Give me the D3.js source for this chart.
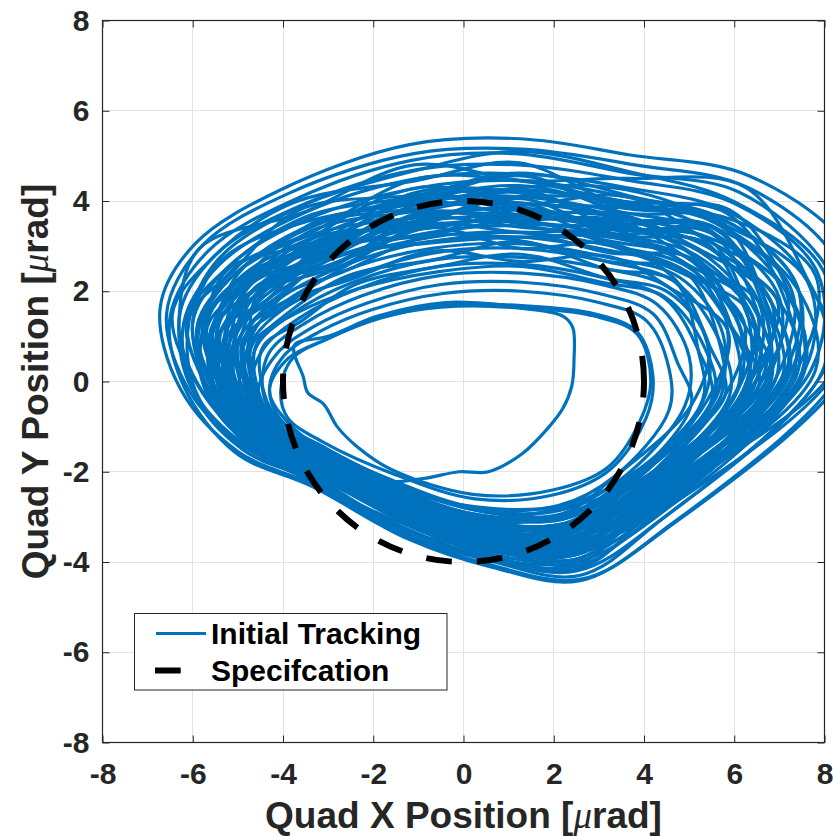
<!DOCTYPE html>
<html>
<head>
<meta charset="utf-8">
<script src="https://cdn.jsdelivr.net/npm/d3@7"></script>
<style>
  body { margin: 0; background: #fff; }
  svg { display: block; font-family: "Liberation Sans", Arial, Helvetica, sans-serif; }
</style>
</head>
<body>
<svg width="833" height="836"></svg>
<script>
const xTicks = [-8, -6, -4, -2, 0, 2, 4, 6, 8]
const yTicks = [-8, -6, -4, -2, 0, 2, 4, 6, 8]
const specRadius = 4
const seriesNames = ['Initial Tracking', 'Specifcation']

// tracking loops, [x, y] in urad
const loopA = [[-6.28,-0.15],[-6.72,1.65],[-5.95,3.05],[-4.05,4.25],[-1.2,5.25],[1.25,5.38],[3.7,5.02],[6.35,4.55],[8.6,2.8],[8.7,0.55],[4.45,-3.3],[2.6,-4.38],[0.55,-4.05],[-1.3,-3.4],[-3.3,-2.3],[-5.0,-1.55]]
const loopB = [[-6.05,-0.25],[-6.58,1.5],[-5.8,3.0],[-3.85,4.18],[-1.1,5.05],[1.3,5.15],[3.8,4.8],[6.3,4.3],[8.3,2.6],[8.35,0.4],[4.15,-3.05],[2.5,-4.1],[0.5,-3.88],[-1.4,-3.2],[-3.25,-2.2],[-4.85,-1.45]]
const loopC = [[-6.2,-0.1],[-6.5,1.45],[-5.65,2.9],[-3.7,4.05],[-1.15,4.9],[1.15,5.05],[3.75,4.6],[6.1,4.2],[8.1,2.45],[8.5,0.5],[4.35,-3.35],[2.55,-4.42],[0.65,-4.12],[-1.25,-3.48],[-3.35,-2.33],[-5.05,-1.58]]
const loopD = [[-5.8,-0.2],[-6.3,1.4],[-5.5,2.8],[-3.6,3.9],[-1.0,4.7],[1.2,4.8],[3.7,4.45],[6.0,3.95],[7.85,2.4],[7.7,0.25],[4.0,-2.9],[2.4,-3.8],[0.45,-3.65],[-1.4,-3.0],[-3.2,-2.05],[-4.6,-1.3]]
const loopE = [[-5.95,-0.3],[-6.2,1.3],[-5.4,2.6],[-3.5,3.75],[-1.0,4.5],[1.3,4.6],[3.6,4.3],[5.9,3.75],[7.6,2.3],[8.0,0.35],[4.3,-3.12],[2.5,-4.2],[0.6,-3.95],[-1.3,-3.3],[-3.3,-2.2],[-4.9,-1.5]]
const loopF = [[-5.55,-0.15],[-6.0,1.3],[-5.2,2.55],[-3.45,3.6],[-0.95,4.3],[1.2,4.45],[3.55,4.1],[5.75,3.6],[7.4,2.1],[7.2,0.1],[3.9,-2.72],[2.35,-3.55],[0.4,-3.45],[-1.45,-2.85],[-3.2,-1.9],[-4.5,-1.25]]
const loopG = [[-5.7,-0.25],[-5.85,1.2],[-5.05,2.4],[-3.3,3.45],[-0.9,4.1],[1.25,4.25],[3.5,3.95],[5.6,3.5],[7.2,1.9],[7.5,0.2],[4.1,-3.0],[2.45,-3.95],[0.5,-3.8],[-1.35,-3.1],[-3.25,-2.1],[-4.75,-1.4]]
const loopH = [[-5.3,-0.2],[-5.7,1.25],[-4.9,2.35],[-3.2,3.25],[-0.9,4.0],[1.2,4.1],[3.5,3.75],[5.5,3.3],[7.0,1.85],[6.7,0.0],[3.75,-2.55],[2.3,-3.35],[0.4,-3.25],[-1.45,-2.7],[-3.2,-1.8],[-4.4,-1.15]]
const loopI = [[-5.5,-0.3],[-5.6,1.1],[-4.8,2.2],[-3.1,3.15],[-0.85,3.85],[1.3,3.95],[3.45,3.65],[5.4,3.15],[6.85,1.7],[7.15,0.15],[4.05,-2.92],[2.45,-3.85],[0.5,-3.7],[-1.35,-3.05],[-3.25,-2.05],[-4.7,-1.35]]
const loopJ = [[-5.1,-0.15],[-5.45,1.15],[-4.7,2.2],[-3.05,3.0],[-0.8,3.7],[1.2,3.82],[3.4,3.45],[5.3,3.05],[6.6,1.6],[6.25,-0.2],[3.6,-2.4],[2.25,-3.15],[0.35,-3.1],[-1.5,-2.55],[-3.15,-1.65],[-4.3,-1.05]]
const loopK = [[-5.35,-0.25],[-5.4,1.05],[-4.6,2.05],[-3.0,2.9],[-0.85,3.55],[1.3,3.65],[3.35,3.4],[5.2,2.9],[6.5,1.5],[6.8,-0.05],[3.95,-2.8],[2.4,-3.65],[0.45,-3.55],[-1.4,-2.9],[-3.25,-1.95],[-4.6,-1.3]]
const loopL = [[-5.2,-0.2],[-5.3,1.0],[-4.5,2.0],[-2.95,2.85],[-0.8,3.45],[1.25,3.55],[3.35,3.25],[5.15,2.8],[6.4,1.45],[6.45,-0.1],[3.8,-2.65],[2.35,-3.45],[0.4,-3.35],[-1.45,-2.75],[-3.2,-1.85],[-4.45,-1.2]]
const loopM = [[-5.35,-0.15],[-5.15,0.95],[-4.4,1.9],[-2.85,2.75],[-0.75,3.3],[1.2,3.45],[3.3,3.1],[5.05,2.7],[6.2,1.3],[6.7,0.0],[4.0,-2.85],[2.4,-3.75],[0.5,-3.6],[-1.4,-2.95],[-3.25,-2.0],[-4.65,-1.35]]
const loopN = [[-5.0,-0.2],[-5.05,1.0],[-4.3,1.85],[-2.8,2.65],[-0.7,3.2],[1.3,3.3],[3.3,3.0],[4.95,2.55],[6.1,1.25],[6.05,-0.25],[3.7,-2.45],[2.25,-3.25],[0.4,-3.2],[-1.45,-2.6],[-3.2,-1.7],[-4.35,-1.1]]
const loopO = [[-5.15,-0.3],[-5.0,0.9],[-4.2,1.75],[-2.7,2.55],[-0.75,3.1],[1.25,3.2],[3.25,2.9],[4.9,2.45],[5.95,1.15],[6.35,-0.15],[3.85,-2.7],[2.35,-3.55],[0.45,-3.45],[-1.4,-2.8],[-3.2,-1.9],[-4.5,-1.25]]
const loopP = [[-4.8,-0.2],[-4.85,0.85],[-4.05,1.7],[-2.65,2.45],[-0.7,2.95],[1.3,3.05],[3.2,2.75],[4.8,2.3],[5.75,1.05],[5.6,-0.35],[3.55,-2.35],[2.2,-3.05],[0.35,-3.0],[-1.5,-2.45],[-3.15,-1.6],[-4.2,-1.0]]
const loopQ = [[-4.95,-0.25],[-4.75,0.8],[-4.0,1.6],[-2.55,2.3],[-0.65,2.85],[1.2,2.95],[3.2,2.65],[4.7,2.2],[5.65,0.95],[5.9,-0.3],[3.75,-2.5],[2.3,-3.3],[0.4,-3.3],[-1.45,-2.65],[-3.2,-1.75],[-4.4,-1.15]]
const loopR = [[-4.65,-0.2],[-4.6,0.75],[-3.8,1.5],[-2.45,2.2],[-0.6,2.7],[1.3,2.75],[3.15,2.5],[4.6,2.05],[5.4,0.85],[5.3,-0.45],[3.5,-2.25],[2.2,-2.95],[0.3,-2.95],[-1.5,-2.35],[-3.15,-1.55],[-4.15,-0.95]]
const loopS = [[-4.75,-0.3],[-4.45,0.7],[-3.65,1.4],[-2.35,2.05],[-0.55,2.55],[1.25,2.6],[3.1,2.3],[4.45,1.85],[5.2,0.7],[5.5,-0.4],[3.7,-2.5],[2.25,-3.2],[0.4,-3.15],[-1.45,-2.6],[-3.2,-1.7],[-4.35,-1.1]]
const loopT = [[-4.45,-0.2],[-4.3,0.65],[-3.5,1.3],[-2.25,1.9],[-0.5,2.35],[1.3,2.4],[3.05,2.15],[4.3,1.7],[5.0,0.55],[4.9,-0.55],[3.45,-2.2],[2.15,-2.85],[0.3,-2.85],[-1.5,-2.3],[-3.15,-1.5],[-4.1,-0.95]]
const loopU = [[-4.55,-0.25],[-4.15,0.6],[-3.35,1.2],[-2.1,1.75],[-0.5,2.15],[1.3,2.2],[3.0,1.95],[4.2,1.5],[4.75,0.4],[5.05,-0.5],[3.55,-2.3],[2.2,-3.0],[0.35,-3.05],[-1.5,-2.4],[-3.15,-1.6],[-4.2,-1.05]]
const loopV = [[-4.3,-0.15],[-4.0,0.55],[-3.2,1.1],[-2.0,1.6],[-0.45,1.95],[1.3,2.0],[3.0,1.75],[4.05,1.35],[4.55,0.3],[4.55,-0.65],[3.35,-2.1],[2.1,-2.75],[0.3,-2.8],[-1.55,-2.2],[-3.15,-1.45],[-4.05,-0.85]]
const loopW = [[-4.05,-0.2],[-3.8,0.5],[-3.0,0.95],[-1.85,1.4],[-0.4,1.7],[1.3,1.68],[2.9,1.5],[3.85,1.1],[4.2,0.1],[4.05,-0.8],[3.25,-1.95],[2.05,-2.5],[0.25,-2.6],[-1.55,-2.05],[-3.1,-1.35],[-3.9,-0.8]]
const loopX1 = [[-6.05,-0.1],[-6.3,1.45],[-5.85,2.95],[-3.55,3.75],[-1.1,4.8],[1.35,4.45],[3.65,4.5],[6.25,4.3],[7.65,2.2],[8.25,0.4],[4.0,-2.85],[2.5,-4.05],[0.55,-3.7],[-1.35,-3.3],[-3.25,-2.15],[-4.8,-1.45]]
const loopX2 = [[-5.7,-0.1],[-6.1,1.4],[-5.1,2.45],[-3.65,3.8],[-0.95,4.15],[1.2,4.6],[3.5,3.75],[5.75,3.65],[7.8,2.35],[7.3,0.1],[4.15,-3.0],[2.4,-3.65],[0.5,-3.75],[-1.4,-3.0],[-3.25,-2.05],[-4.65,-1.3]]
const loopX3 = [[-5.35,-0.25],[-5.7,1.2],[-5.2,2.5],[-3.1,3.1],[-0.95,4.1],[1.2,3.9],[3.6,4.1],[5.35,3.15],[7.15,2.0],[6.55,-0.1],[3.95,-2.75],[2.45,-3.85],[0.45,-3.45],[-1.4,-2.95],[-3.2,-1.9],[-4.6,-1.3]]
const loopX4 = [[-5.15,-0.1],[-5.4,1.1],[-4.3,1.85],[-3.15,3.05],[-0.85,3.6],[1.3,4.05],[3.35,3.25],[5.4,3.05],[6.3,1.45],[6.8,0.05],[3.75,-2.6],[2.35,-3.45],[0.45,-3.5],[-1.45,-2.65],[-3.2,-1.85],[-4.4,-1.2]]
const loopX5 = [[-4.9,-0.15],[-5.05,0.95],[-4.6,2.1],[-2.8,2.6],[-0.85,3.75],[1.25,3.5],[3.4,3.35],[4.95,2.6],[6.5,1.55],[6.05,-0.2],[3.8,-2.65],[2.25,-3.15],[0.4,-3.25],[-1.4,-2.85],[-3.2,-1.7],[-4.3,-1.05]]
const loopX6 = [[-4.65,-0.15],[-4.75,0.85],[-4.15,1.75],[-2.9,2.75],[-0.7,3.1],[1.3,3.3],[3.25,2.85],[5.1,2.7],[5.85,1.15],[5.55,-0.35],[3.7,-2.45],[2.3,-3.3],[0.35,-3.1],[-1.45,-2.6],[-3.15,-1.6],[-4.15,-1.0]]
const loopX7 = [[-5.5,-0.15],[-5.85,1.3],[-4.75,2.25],[-3.35,3.35],[-0.9,3.8],[1.2,4.2],[3.45,3.6],[5.6,3.4],[6.75,1.65],[7.05,0.05],[3.9,-2.7],[2.4,-3.75],[0.4,-3.45],[-1.4,-2.9],[-3.25,-2.0],[-4.5,-1.25]]
const loopX8 = [[-5.25,-0.3],[-5.55,1.15],[-4.9,2.3],[-3.0,2.95],[-0.9,3.95],[1.25,3.7],[3.5,3.7],[5.25,2.9],[6.95,1.8],[6.3,-0.1],[4.0,-2.8],[2.35,-3.6],[0.5,-3.6],[-1.45,-2.75],[-3.25,-1.95],[-4.55,-1.2]]
const loopX9 = [[-5.0,-0.25],[-5.25,1.05],[-4.75,2.15],[-3.25,3.2],[-0.8,3.4],[1.3,3.65],[3.45,3.5],[5.1,2.8],[6.1,1.3],[6.25,-0.2],[3.65,-2.4],[2.25,-3.25],[0.4,-3.35],[-1.5,-2.5],[-3.2,-1.75],[-4.35,-1.1]]
const loopX10 = [[-5.6,-0.3],[-6.0,1.35],[-5.35,2.7],[-3.45,3.55],[-0.95,3.95],[1.3,4.3],[3.6,4.25],[5.65,3.5],[7.4,2.05],[7.8,0.25],[4.1,-2.95],[2.55,-4.15],[0.55,-3.85],[-1.35,-3.15],[-3.3,-2.25],[-4.75,-1.45]]
const loopX11 = [[-4.75,-0.15],[-4.9,0.9],[-4.0,1.65],[-2.7,2.5],[-0.8,3.4],[1.25,2.95],[3.3,3.05],[4.7,2.25],[5.45,0.8],[5.8,-0.3],[3.5,-2.25],[2.2,-3.05],[0.3,-2.95],[-1.5,-2.45],[-3.2,-1.65],[-4.2,-1.0]]
const loopX12 = [[-5.85,-0.15],[-6.45,1.5],[-5.55,2.75],[-3.8,3.95],[-1.05,4.45],[1.2,4.85],[3.55,3.9],[5.9,3.8],[7.2,2.0],[7.55,0.2],[4.2,-3.05],[2.5,-4.0],[0.55,-3.9],[-1.35,-3.25],[-3.25,-2.15],[-4.7,-1.4]]
const loopX13 = [[-5.3,-0.1],[-5.6,1.15],[-4.6,2.05],[-3.25,3.25],[-1.0,4.3],[1.25,3.95],[3.5,3.85],[5.7,3.55],[6.7,1.7],[6.9,0.0],[3.8,-2.6],[2.35,-3.55],[0.4,-3.4],[-1.4,-2.8],[-3.2,-1.8],[-4.5,-1.2]]
const loopX14 = [[-5.1,-0.25],[-4.95,0.95],[-4.45,1.95],[-3.0,2.95],[-0.75,3.25],[1.3,3.8],[3.3,3.0],[4.85,2.4],[6.4,1.45],[6.05,-0.25],[3.9,-2.7],[2.4,-3.65],[0.45,-3.45],[-1.45,-2.75],[-3.2,-1.8],[-4.35,-1.1]]
const loopX15 = [[-4.55,-0.2],[-4.6,0.8],[-3.85,1.55],[-2.55,2.35],[-0.65,2.7],[1.25,3.1],[3.15,2.5],[4.7,2.2],[5.2,0.7],[5.3,-0.4],[3.55,-2.35],[2.15,-2.8],[0.35,-3.05],[-1.5,-2.4],[-3.15,-1.5],[-4.15,-0.95]]
const loopX16 = [[-5.55,-0.2],[-5.9,1.25],[-5.05,2.4],[-3.2,3.3],[-0.85,3.65],[1.3,3.85],[3.4,3.4],[5.4,3.2],[7.2,1.95],[7.5,0.2],[3.95,-2.8],[2.35,-3.45],[0.45,-3.55],[-1.4,-3.05],[-3.25,-2.0],[-4.6,-1.3]]
const loopY1 = [[-5.4,-0.22],[-5.47,1.12],[-5.0,2.38],[-3.38,3.46],[-0.9,3.85],[1.24,4.1],[3.55,3.99],[5.52,3.31],[6.83,1.74],[7.2,0.12],[3.91,-2.73],[2.4,-3.69],[0.44,-3.44],[-1.4,-2.95],[-3.23,-1.94],[-4.52,-1.24]]
const loopY2 = [[-5.17,-0.17],[-5.16,1.0],[-4.7,2.16],[-2.9,2.8],[-0.86,3.71],[1.25,3.58],[3.44,3.56],[5.05,2.68],[6.65,1.62],[6.55,-0.08],[3.75,-2.55],[2.36,-3.56],[0.41,-3.31],[-1.42,-2.83],[-3.2,-1.78],[-4.46,-1.2]]
const loopY3 = [[-4.94,-0.23],[-5.16,1.02],[-4.3,1.86],[-3.01,2.95],[-0.76,3.25],[1.27,3.56],[3.31,3.02],[4.89,2.47],[6.21,1.34],[5.8,-0.3],[3.69,-2.48],[2.25,-3.18],[0.39,-3.24],[-1.47,-2.6],[-3.2,-1.75],[-4.28,-1.06]]
const loopY4 = [[-5.71,-0.18],[-5.77,1.23],[-5.13,2.47],[-3.3,3.34],[-1.04,4.49],[1.22,4.45],[3.55,3.99],[5.83,3.73],[7.09,1.9],[7.3,0.15],[4.08,-2.93],[2.42,-3.77],[0.49,-3.64],[-1.4,-2.95],[-3.25,-2.06],[-4.66,-1.35]]
const loopY5 = [[-4.7,-0.2],[-4.86,0.89],[-4.2,1.8],[-2.64,2.44],[-0.76,3.22],[1.26,3.12],[3.22,2.66],[4.89,2.45],[5.64,0.98],[5.7,-0.33],[3.52,-2.28],[2.24,-3.14],[0.35,-3.08],[-1.48,-2.52],[-3.16,-1.57],[-4.22,-1.02]]
const loopY6 = [[-5.31,-0.24],[-5.68,1.2],[-4.7,2.18],[-3.16,3.16],[-0.82,3.5],[1.23,4.26],[3.4,3.38],[5.49,3.28],[6.52,1.54],[6.8,0.02],[3.98,-2.82],[2.37,-3.6],[0.46,-3.52],[-1.43,-2.8],[-3.22,-1.91],[-4.54,-1.26]]
const loopY7 = [[-5.95,-0.18],[-6.08,1.35],[-5.44,2.7],[-3.67,3.85],[-1.08,4.67],[1.21,5.1],[3.71,4.64],[6.01,3.98],[7.97,2.46],[8.05,0.38],[4.27,-3.15],[2.57,-4.3],[0.57,-3.97],[-1.32,-3.37],[-3.28,-2.21],[-4.88,-1.51]]
const loopY8 = [[-5.08,-0.16],[-5.29,1.05],[-4.82,2.25],[-3.08,3.04],[-0.94,4.06],[1.24,3.8],[3.46,3.63],[5.23,2.93],[6.83,1.74],[6.4,-0.12],[3.85,-2.67],[2.3,-3.35],[0.43,-3.41],[-1.44,-2.71],[-3.22,-1.87],[-4.4,-1.15]]
const loopY9 = [[-4.42,-0.25],[-4.46,0.74],[-3.58,1.35],[-2.42,2.14],[-0.6,2.54],[1.27,2.82],[3.13,2.3],[4.53,1.98],[5.42,0.84],[5.05,-0.52],[3.36,-2.1],[2.18,-2.93],[0.3,-2.86],[-1.53,-2.24],[-3.14,-1.43],[-4.06,-0.9]]
const loopY10 = [[-5.55,-0.12],[-5.59,1.16],[-4.85,2.28],[-3.4,3.48],[-0.95,4.04],[1.22,4.56],[3.51,3.85],[5.72,3.59],[7.4,2.1],[7.05,0.08],[4.01,-2.85],[2.47,-3.94],[0.48,-3.61],[-1.4,-2.91],[-3.23,-1.95],[-4.55,-1.28]]
const loopY11 = [[-4.84,-0.17],[-4.77,0.85],[-4.51,2.02],[-2.79,2.65],[-0.84,3.6],[1.25,3.42],[3.35,3.2],[5.05,2.68],[5.95,1.18],[6.05,-0.23],[3.72,-2.52],[2.27,-3.25],[0.37,-3.14],[-1.46,-2.64],[-3.18,-1.68],[-4.26,-1.04]]
const loopY12 = [[-5.24,-0.28],[-5.38,1.08],[-4.45,1.98],[-2.92,2.82],[-0.88,3.78],[1.24,3.96],[3.37,3.27],[5.57,3.38],[6.65,1.62],[6.7,-0.03],[3.69,-2.46],[2.31,-3.39],[0.38,-3.19],[-1.47,-2.55],[-3.19,-1.72],[-4.4,-1.13]]
const loopZ1 = [[-5.01,-0.26],[-5.38,1.1],[-4.45,2.0],[-2.72,2.56],[-0.82,3.48],[1.26,3.31],[3.4,3.36],[5.41,3.17],[6.32,1.38],[6.2,-0.18],[3.78,-2.58],[2.29,-3.31],[0.4,-3.27],[-1.47,-2.62],[-3.2,-1.8],[-4.38,-1.13]]
const loopZ2 = [[-5.48,-0.2],[-5.53,1.16],[-4.6,2.08],[-3.12,3.12],[-0.98,4.21],[1.23,4.18],[3.46,3.62],[5.31,3.03],[6.96,1.82],[7.4,0.18],[3.88,-2.7],[2.4,-3.7],[0.45,-3.47],[-1.39,-2.99],[-3.23,-1.96],[-4.57,-1.28]]
const loopZ3 = [[-4.77,-0.22],[-4.98,0.93],[-4.08,1.71],[-2.5,2.26],[-0.68,2.89],[1.27,2.66],[3.24,2.77],[4.58,2.07],[5.86,1.12],[5.4,-0.42],[3.59,-2.37],[2.21,-3.03],[0.33,-2.98],[-1.49,-2.49],[-3.17,-1.6],[-4.18,-0.99]]
const loopZ4 = [[-5.64,-0.16],[-6.14,1.35],[-5.23,2.52],[-3.52,3.64],[-0.96,4.12],[1.22,4.62],[3.58,4.14],[5.67,3.52],[7.62,2.22],[7.55,0.23],[3.98,-2.82],[2.44,-3.85],[0.51,-3.74],[-1.38,-3.02],[-3.24,-2.01],[-4.69,-1.37]]
const loopZ5 = [[-5.24,-0.14],[-5.23,1.01],[-4.2,1.82],[-2.86,2.74],[-0.72,3.07],[1.26,3.2],[3.35,3.18],[4.97,2.58],[5.95,1.2],[6.55,-0.06],[3.82,-2.62],[2.35,-3.52],[0.38,-3.2],[-1.45,-2.67],[-3.21,-1.83],[-4.42,-1.17]]
const loopZ6 = [[-5.36,-0.18],[-5.77,1.25],[-4.92,2.31],[-3.08,3.06],[-0.86,3.69],[1.25,3.69],[3.42,3.49],[5.57,3.4],[7.27,2.02],[6.9,0.03],[4.04,-2.88],[2.33,-3.46],[0.47,-3.57],[-1.41,-2.86],[-3.22,-1.87],[-4.52,-1.22]]
const loopZ7 = [[-4.61,-0.18],[-4.68,0.82],[-3.77,1.48],[-2.35,2.05],[-0.58,2.43],[1.28,2.55],[3.1,2.19],[4.45,1.88],[5.33,0.78],[5.55,-0.37],[3.46,-2.22],[2.13,-2.76],[0.28,-2.78],[-1.52,-2.33],[-3.16,-1.54],[-4.14,-0.95]]
const loopZ8 = [[-5.13,-0.24],[-5.07,0.97],[-4.51,2.04],[-2.94,2.88],[-0.92,3.96],[1.23,4.34],[3.49,3.74],[5.1,2.77],[6.39,1.46],[6.3,-0.14],[3.91,-2.73],[2.41,-3.73],[0.42,-3.36],[-1.43,-2.8],[-3.19,-1.72],[-4.38,-1.13]]
const innerDrop = [[-0.5,1.65],[1.3,1.62],[2.2,1.45],[2.42,1.2],[2.45,0.5],[2.4,-0.1],[2.2,-0.6],[1.9,-1.0],[1.3,-1.6],[0.55,-2.0],[-0.1,-2.0],[-0.9,-2.15],[-1.8,-2.2],[-3.0,-1.6],[-3.9,-0.9],[-4.3,-0.2],[-3.9,0.5],[-3.0,0.95],[-1.9,1.4]]
const innerLeft = [[-3.75,0.8],[-3.55,0.1],[-3.45,-0.25],[-3.1,-0.5],[-2.8,-1.0],[-2.35,-1.45],[-1.6,-1.95],[0.2,-2.5],[2.0,-2.4],[3.2,-1.9],[3.9,-0.9],[4.15,0.0],[3.85,1.05],[2.9,1.45],[1.3,1.65],[-0.4,1.75],[-1.9,1.45],[-3.0,1.0]]

const loops = [loopA, loopB, loopC, loopD, loopE, loopF, loopG, loopH, loopI, loopJ, loopK, loopL,
  loopM, loopN, loopO, loopP, loopQ, loopR, loopS, loopT, loopU, loopV, loopW,
  loopX1, loopX2, loopX3, loopX4, loopX5, loopX6, loopX7, loopX8, loopX9, loopX10, loopX11,
  loopX12, loopX13, loopX14, loopX15, loopX16,
  loopY1, loopY2, loopY3, loopY4, loopY5, loopY6, loopY7, loopY8, loopY9, loopY10, loopY11, loopY12,
  loopZ1, loopZ2, loopZ3, loopZ4, loopZ5, loopZ6, loopZ7, loopZ8,
  innerDrop, innerLeft]

const svg = d3.select('svg')
const blue = '#0072BD'
const ink = '#262626'

const x = d3.scaleLinear().domain([-8, 8]).range([102.5, 824.5])
const y = d3.scaleLinear().domain([-8, 8]).range([742.5, 20.5])
const px = v => Math.round(v - 0.5) + 0.5

svg.append('clipPath').attr('id', 'plotClip')
  .append('rect')
  .attr('x', x(-8)).attr('y', y(8))
  .attr('width', x(8) - x(-8)).attr('height', y(-8) - y(8))

// grid
const grid = svg.append('g').attr('stroke', '#e3e3e3').attr('stroke-width', 1)
grid.selectAll('.gx').data(xTicks).enter().append('line')
  .attr('x1', d => px(x(d))).attr('x2', d => px(x(d)))
  .attr('y1', y(-8)).attr('y2', y(8))
grid.selectAll('.gy').data(yTicks).enter().append('line')
  .attr('y1', d => px(y(d))).attr('y2', d => px(y(d)))
  .attr('x1', x(-8)).attr('x2', x(8))

// tracking data
const line = d3.line()
  .x(d => x(d[0]))
  .y(d => y(d[1]))
  .curve(d3.curveCatmullRomClosed.alpha(0.5))

svg.append('g')
  .attr('clip-path', 'url(#plotClip)')
  .selectAll('path')
  .data(loops)
  .enter()
  .append('path')
  .attr('d', line)
  .attr('fill', 'none')
  .attr('stroke', blue)
  .attr('stroke-width', 3.2)
  .attr('stroke-linejoin', 'round')

// specification circle, starting at (r, 0) going counter-clockwise
const cx = x(0), cy = y(0), r = x(specRadius) - x(0)
const circ = d3.path()
circ.moveTo(cx + r, cy)
circ.arc(cx, cy, r, 0, -Math.PI, true)
circ.arc(cx, cy, r, -Math.PI, -2 * Math.PI, true)
svg.append('path')
  .attr('d', circ.toString())
  .attr('fill', 'none')
  .attr('stroke', '#000')
  .attr('stroke-width', 6)
  .attr('stroke-dasharray', '25.7 25.1')

// axes
function styleAxis(g) {
  g.select('.domain').remove()
  g.selectAll('.tick line').attr('stroke', ink)
  g.selectAll('.tick text')
    .attr('fill', ink)
    .style('font-size', '30px')
    .style('font-weight', 'bold')
    .style('font-family', '"Liberation Sans", Arial, Helvetica, sans-serif')
}
const fmt = d => String(d)

svg.append('g').attr('transform', `translate(0,${y(-8)})`)
  .call(d3.axisBottom(x).tickValues(xTicks).tickFormat(fmt).tickSize(-7).tickPadding(20).tickSizeOuter(0))
  .call(styleAxis)
svg.append('g').attr('transform', `translate(${x(-8)},0)`)
  .call(d3.axisLeft(y).tickValues(yTicks).tickFormat(fmt).tickSize(-7).tickPadding(13).tickSizeOuter(0))
  .call(styleAxis)
svg.append('g').attr('transform', `translate(0,${y(8)})`)
  .call(d3.axisTop(x).tickValues(xTicks).tickSize(-7).tickFormat('').tickSizeOuter(0))
  .call(styleAxis)
svg.append('g').attr('transform', `translate(${x(8)},0)`)
  .call(d3.axisRight(y).tickValues(yTicks).tickSize(-7).tickFormat('').tickSizeOuter(0))
  .call(styleAxis)

svg.append('rect')
  .attr('x', x(-8)).attr('y', y(8))
  .attr('width', x(8) - x(-8)).attr('height', y(-8) - y(8))
  .attr('fill', 'none').attr('stroke', ink).attr('stroke-width', 1.2)

// axis labels
function axisLabel(sel, name) {
  sel.append('tspan').text(name + ' [')
  sel.append('tspan').text('\u03bc')
    .style('font-family', '"Liberation Serif", "DejaVu Serif", serif')
    .style('font-style', 'italic').style('font-weight', 'normal')
  sel.append('tspan').text('rad]')
}
svg.append('text')
  .attr('x', (x(-8) + x(8)) / 2).attr('y', 828)
  .attr('text-anchor', 'middle').attr('fill', ink)
  .style('font-size', '37px').style('font-weight', 'bold')
  .call(axisLabel, 'Quad X Position')
svg.append('text')
  .attr('transform', `translate(48,${(y(-8) + y(8)) / 2}) rotate(-90)`)
  .attr('text-anchor', 'middle').attr('fill', ink)
  .style('font-size', '37px').style('font-weight', 'bold')
  .call(axisLabel, 'Quad Y Position')

// legend
const legend = svg.append('g')
legend.append('rect')
  .attr('x', 134.5).attr('y', 613.5).attr('width', 312.5).attr('height', 76.5)
  .attr('fill', '#fff').attr('stroke', ink).attr('stroke-width', 1)
legend.append('line')
  .attr('x1', 156).attr('x2', 206).attr('y1', 633.5).attr('y2', 633.5)
  .attr('stroke', blue).attr('stroke-width', 3)
legend.append('line')
  .attr('x1', 155).attr('x2', 205).attr('y1', 670.5).attr('y2', 670.5)
  .attr('stroke', '#000').attr('stroke-width', 6).attr('stroke-dasharray', '25.7 25.1')
legend.selectAll('text').data(seriesNames).enter().append('text')
  .attr('x', 211)
  .attr('y', (d, i) => 643.5 + i * 37)
  .attr('fill', '#000')
  .style('font-size', '30px').style('font-weight', 'bold')
  .text(d => d)
</script>
</body>
</html>
